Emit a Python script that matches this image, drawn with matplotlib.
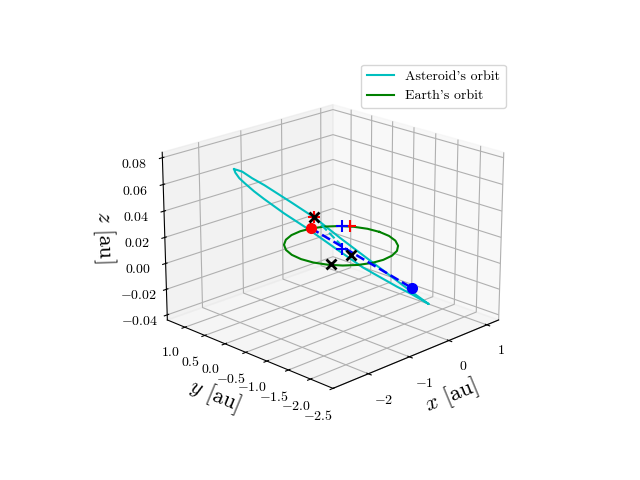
import numpy as np
import matplotlib
matplotlib.use("Agg")
import matplotlib.pyplot as plt

plt.rcParams['mathtext.fontset'] = 'cm'
plt.rcParams['font.family'] = ['cmr10', 'DejaVu Serif']
plt.rcParams['axes.formatter.use_mathtext'] = True

# earth's orbit
earth_x = [1.0, 0.966, 0.866, 0.707, 0.5, 0.259, 0.0, -0.259, -0.5, -0.707, -0.866, -0.966,
           -1.0, -0.966, -0.866, -0.707, -0.5, -0.259, 0.0, 0.259, 0.5, 0.707, 0.866, 0.966, 1.0]
earth_y = [0.0, 0.259, 0.5, 0.707, 0.866, 0.966, 1.0, 0.966, 0.866, 0.707, 0.5, 0.259,
           0.0, -0.259, -0.5, -0.707, -0.866, -0.966, -1.0, -0.966, -0.866, -0.707, -0.5, -0.259, 0.0]
earth_z = [0.0] * len(earth_x)

# asteroid orbit, tip to tip along the upper edge then back along the lower edge
ast_x = [-1.31, -1.27, -1.21, -1.09, -0.94, -0.61, -0.325, -0.012, 0.40, 0.862, 1.07, 1.10,
         0.888, 0.70, 0.275, -0.075, -0.413, -0.70, -0.95, -1.068, -1.182, -1.248, -1.295, -1.31]
ast_y = [1.31, 1.27, 1.21, 1.09, 0.94, 0.61, 0.325, 0.012, -0.40, -0.862, -1.07, -1.10,
         -0.888, -0.70, -0.275, 0.075, 0.413, 0.70, 0.95, 1.068, 1.182, 1.248, 1.295, 1.31]
ast_z = [0.0585, 0.0578, 0.0566, 0.0516, 0.0463, 0.0331, 0.0214, 0.0058, -0.0137, -0.0355, -0.0449, -0.0462,
         -0.0385, -0.0325, -0.0175, -0.0022, 0.0128, 0.0245, 0.0358, 0.0415, 0.0477, 0.0516, 0.0558, 0.0585]

# markers and the chords between them
cross_1 = ([-0.338], [0.338], [0.0219])
cross_2 = ([0.125], [-0.125], [-0.0077])
cross_3 = ([-0.125], [0.125], [-0.0148])
red_dot = ([-0.375], [0.375], [0.0133])
blue_dot = ([0.888], [-0.888], [-0.0335])
chord_x = [-0.375, 0.888]
chord_y = [0.375, -0.888]
chord_z = [0.0133, -0.0335]
dash_x = [-0.338, 0.125]
dash_y = [0.338, -0.125]
dash_z = [0.0219, -0.0077]
red_plus = ([0.113], [-0.113], [0.0149])
blue_plus = ([0.0125], [-0.0125], [0.0149])
blue_plus2 = ([0.0125], [-0.0125], [-0.0031])

fig = plt.figure(figsize=(6.4, 4.8), dpi=100)
ax = fig.add_subplot(projection='3d')
ax.plot(ast_x, ast_y, ast_z, c='c', label="Asteroid's orbit")
ax.plot(earth_x, earth_y, earth_z, c='g', label="Earth's orbit")
ax.plot(dash_x, dash_y, dash_z, c='c', ls='--')
ax.plot(chord_x, chord_y, chord_z, c='b', ls='--', lw=1.8)
ax.plot(*red_dot, 'o', c='r', ms=7)
ax.plot(*blue_dot, 'o', c='b', ms=7)
ax.plot(*cross_1, '+', c='r', ms=8, mew=1.5)
ax.plot(*red_plus, '+', c='r', ms=8, mew=1.5)
ax.plot(*blue_plus, '+', c='b', ms=8, mew=1.5)
ax.plot(*blue_plus2, '+', c='b', ms=8, mew=1.5)
ax.plot(*cross_1, 'x', c='k', ms=7, mew=2)
ax.plot(*cross_2, 'x', c='k', ms=7, mew=2)
ax.plot(*cross_3, 'x', c='k', ms=7, mew=2)
ax.set_xlim(-2.83, 1.32)
ax.set_ylim(-2.5, 1.45)
ax.set_zlim(-0.044, 0.084)
ax.set_xticks([-2, -1, 0, 1])
ax.set_yticks([-2.5, -2, -1.5, -1, -0.5, 0, 0.5, 1])
ax.set_zticks([-0.04, -0.02, 0, 0.02, 0.04, 0.06, 0.08])
ax.set_xticklabels(['$-2$', '$-1$', '$0$', '$1$'])
ax.set_yticklabels(['$-2.5$', '$-2.0$', '$-1.5$', '$-1.0$', '$-0.5$', '$0.0$', '$0.5$', '$1.0$'])
ax.set_zticklabels(['$-0.04$', '$-0.02$', '$0.00$', '$0.02$', '$0.04$', '$0.06$', '$0.08$'])
ax.set_xlabel(r'$x$ [au]', fontsize=16)
ax.set_ylabel(r'$y$ [au]', fontsize=16)
ax.set_zlabel(r'$z$ [au]', fontsize=16)
ax.view_init(elev=20, azim=-135)
ax.legend()
fig.savefig('out.png', dpi=100)
